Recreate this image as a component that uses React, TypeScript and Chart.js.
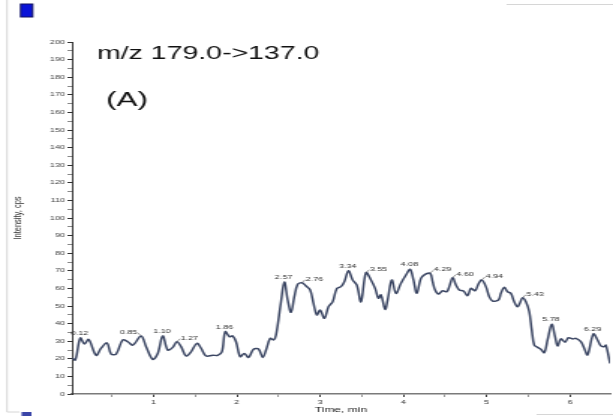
import React, { useEffect, useRef } from 'react';
import { Chart, registerables } from 'chart.js';

Chart.register(...registerables);

// ---- data (time in min, intensity in cps) ----
const times = [
  0.02, 0.06, 0.12, 0.17, 0.22, 0.31, 0.37, 0.44, 0.49, 0.55, 0.63, 0.69, 0.75, 0.85, 0.91, 0.99,
  1.05, 1.11, 1.17, 1.23, 1.28, 1.33, 1.39, 1.45, 1.52, 1.57, 1.63, 1.71, 1.77, 1.82, 1.86, 1.91,
  1.95, 1.99, 2.04, 2.09, 2.14, 2.2, 2.26, 2.31, 2.35, 2.4, 2.44, 2.47, 2.53, 2.57, 2.61, 2.65,
  2.69, 2.73, 2.78, 2.83, 2.88, 2.92, 2.96, 3.0, 3.05, 3.1, 3.15, 3.2, 3.25, 3.29, 3.34, 3.39,
  3.44, 3.49, 3.55, 3.61, 3.66, 3.7, 3.73, 3.78, 3.81, 3.86, 3.91, 3.97, 4.03, 4.08, 4.12, 4.16,
  4.21, 4.26, 4.32, 4.35, 4.38, 4.42, 4.47, 4.52, 4.55, 4.59, 4.63, 4.67, 4.72, 4.77, 4.81, 4.86,
  4.9, 4.94, 4.99, 5.03, 5.07, 5.14, 5.17, 5.21, 5.25, 5.29, 5.33, 5.37, 5.4, 5.43, 5.47, 5.51,
  5.54, 5.57, 5.61, 5.65, 5.69, 5.73, 5.78, 5.82, 5.85, 5.89, 5.94, 5.98, 6.03, 6.07, 6.13, 6.17,
  6.21, 6.28, 6.33, 6.37, 6.41, 6.43, 6.48,
];
const intensity = [
  20.5, 19.3, 31.8, 28.4, 31, 22, 26, 29, 22.7, 22.7, 30.7, 29.7, 27.8, 33, 26.9, 19.7,
  23, 33, 25, 26.5, 29.7, 26.9, 21.6, 24, 28.8, 26, 21.6, 22, 22, 24, 35.4, 32.6,
  33, 29.7, 21.2, 23, 20.8, 25.4, 25.6, 20.8, 25, 31.6, 30.7, 33.5, 52.4, 63.6, 53.4, 46.4,
  55.3, 62.3, 63.2, 61.4, 59.1, 51.5, 44.9, 47.7, 43, 49.6, 52.4, 60, 61, 63.8, 70, 64.8,
  61.9, 52.4, 68.9, 64.8, 60, 54.4, 56.3, 48.1, 53.4, 64.8, 57.2, 62.9, 67.6, 70.8, 64.8, 57.2,
  65.7, 68, 68.6, 63.8, 59.1, 56.8, 58.7, 58.1, 61, 66.1, 61.9, 59.1, 58.5, 55.9, 60, 58.7,
  62.5, 64.8, 61, 55.3, 52.8, 53.4, 57.2, 60.6, 58.1, 57.2, 52.4, 49.6, 51.9, 54.7, 52.4, 46.8,
  36.4, 27.8, 26.5, 25.4, 23.5, 30.7, 39.6, 32.6, 27.3, 31.3, 29.4, 32, 31.3, 31.6, 29.7, 26,
  22.2, 34.1, 30.7, 27.3, 26.9, 27.8, 17.4,
];
const peakLabels = [
  '0.12', '0.85', '1.10', '1.27', '1.86', '2.57', '2.76', '3.34',
  '3.55', '4.08', '4.29', '4.60', '4.94', '5.43', '5.78', '6.29',
];
// where each label sits relative to its apex: c = above, r = right with leader, l = left with leader
const peakPlacement = ['c', 'l', 'c', 'r', 'c', 'c', 'r', 'c', 'r', 'c', 'r', 'r', 'r', 'r', 'c', 'c'];
const titleText = 'm/z 179.0->137.0';
const panelText = '(A)';
const xTitle = 'Time, min';
const yTitle = 'Intensity, cps';
const xMin = 0.02;
const xMax = 6.48;
const yMin = 0;
const yMax = 200;

// the reference figure is stretched horizontally; draw narrower and stretch with CSS
const S = 1.5;
const W = 613;
const H = 416;
const CW = Math.round(W / S);
const FONT = '"Liberation Sans", Arial, sans-serif';

export default function App() {
  const ref = useRef<HTMLCanvasElement>(null);

  useEffect(() => {
    document.body.style.margin = '0';
    const canvas = ref.current;
    if (!canvas) return;

    const overlay = {
      id: 'overlay',
      afterDraw(chart: any) {
        const ctx = chart.ctx as CanvasRenderingContext2D;
        const xs = chart.scales.x;
        const ys = chart.scales.y;
        ctx.save();
        // faint frame remnants
        ctx.strokeStyle = '#d6d6d6';
        ctx.lineWidth = 1;
        ctx.beginPath();
        ctx.moveTo(4.7, 0);
        ctx.lineTo(4.7, 412);
        ctx.lineTo(13, 412);
        ctx.moveTo(338, 4.5);
        ctx.lineTo(CW, 4.5);
        ctx.moveTo(358, 414.5);
        ctx.lineTo(CW, 414.5);
        ctx.stroke();
        // blue markers
        ctx.fillStyle = '#0a14d8';
        ctx.strokeStyle = '#101060';
        ctx.fillRect(13.8, 4, 8, 13);
        ctx.strokeRect(13.8, 4, 8, 13);
        ctx.fillStyle = '#3b45a8';
        ctx.fillRect(14.4, 412, 6.6, 6);

        // big annotations
        ctx.fillStyle = '#111';
        ctx.textAlign = 'left';
        ctx.textBaseline = 'alphabetic';
        ctx.font = `19px ${FONT}`;
        ctx.fillText(titleText, 64.7, 59);
        ctx.font = `21px ${FONT}`;
        ctx.fillText(panelText, 70.7, 106);

        // peak labels
        ctx.font = `6px ${FONT}`;
        ctx.fillStyle = '#333';
        ctx.strokeStyle = '#555';
        ctx.lineWidth = 0.6;
        peakLabels.forEach((lab, k) => {
          const t = parseFloat(lab);
          let best = -1;
          times.forEach((tt, i) => {
            if (Math.abs(tt - t) <= 0.05 && (best < 0 || intensity[i] > intensity[best])) best = i;
          });
          if (best < 0) return;
          const px = xs.getPixelForValue(times[best]);
          const py = ys.getPixelForValue(intensity[best]);
          const place = peakPlacement[k];
          if (place === 'c') {
            ctx.textAlign = 'center';
            ctx.fillText(lab, px - 0.5, py - 3);
          } else if (place === 'r') {
            ctx.beginPath();
            ctx.moveTo(px + 0.3, py - 0.5);
            ctx.lineTo(px + 2.2, py - 3);
            ctx.stroke();
            ctx.textAlign = 'left';
            ctx.fillText(lab, px + 2.5, py - 2);
          } else {
            ctx.beginPath();
            ctx.moveTo(px - 0.3, py - 0.5);
            ctx.lineTo(px - 2.2, py - 3);
            ctx.stroke();
            ctx.textAlign = 'right';
            ctx.fillText(lab, px - 2.5, py - 2);
          }
        });
        ctx.restore();
      },
    };

    const chart = new Chart(canvas, {
      type: 'line',
      data: {
        datasets: [
          {
            data: times.map((t, i) => ({ x: t, y: intensity[i] })),
            borderColor: '#3b4663',
            borderWidth: 1.5,
            pointRadius: 0,
            tension: 0.35,
            fill: false,
          },
        ],
      },
      options: {
        responsive: false,
        animation: false,
        devicePixelRatio: 1,
        layout: { padding: { top: 42, right: 2, left: 0, bottom: 0 } },
        plugins: { legend: { display: false }, tooltip: { enabled: false } },
        scales: {
          x: {
            type: 'linear',
            min: xMin,
            max: xMax,
            afterFit: (s: any) => {
              s.height = 22;
            },
            border: { color: '#7a7a7a', width: 1.5 },
            grid: {
              drawOnChartArea: false,
              tickLength: 3,
              tickColor: (c: any) => (c.tick && Number.isInteger(c.tick.value) ? '#333' : '#999'),
            },
            ticks: {
              stepSize: 0.5,
              includeBounds: false,
              autoSkip: false,
              maxRotation: 0,
              padding: 2,
              color: '#333',
              font: { family: FONT, size: 6 },
              callback: (v: any) => (Number.isInteger(v) ? String(v) : ''),
            },
            title: {
              display: true,
              text: xTitle,
              color: '#222',
              font: { family: FONT, size: 8 },
              padding: { top: 0, bottom: 1.2 },
            },
          },
          y: {
            min: yMin,
            max: yMax,
            afterFit: (s: any) => {
              s.width = 48;
            },
            border: { color: '#333', width: 1 },
            grid: {
              drawOnChartArea: false,
              tickLength: 3,
              tickColor: (c: any) => (c.tick && c.tick.value % 10 === 0 ? '#333' : '#888'),
            },
            ticks: {
              stepSize: 5,
              autoSkip: false,
              padding: 1.7,
              color: '#444',
              font: { family: FONT, size: 6 },
              callback: (v: any) => (v % 10 === 0 ? String(v) : ''),
            },
            title: {
              display: true,
              text: yTitle,
              color: '#333',
              font: { family: FONT, size: 7.5 },
              padding: { top: 7.8, bottom: 0 },
            },
          },
        },
      },
      plugins: [overlay],
    });

    return () => chart.destroy();
  }, []);

  return (
    <canvas
      ref={ref}
      width={CW}
      height={H}
      style={{ width: `${W}px`, height: `${H}px`, display: 'block' }}
    />
  );
}
